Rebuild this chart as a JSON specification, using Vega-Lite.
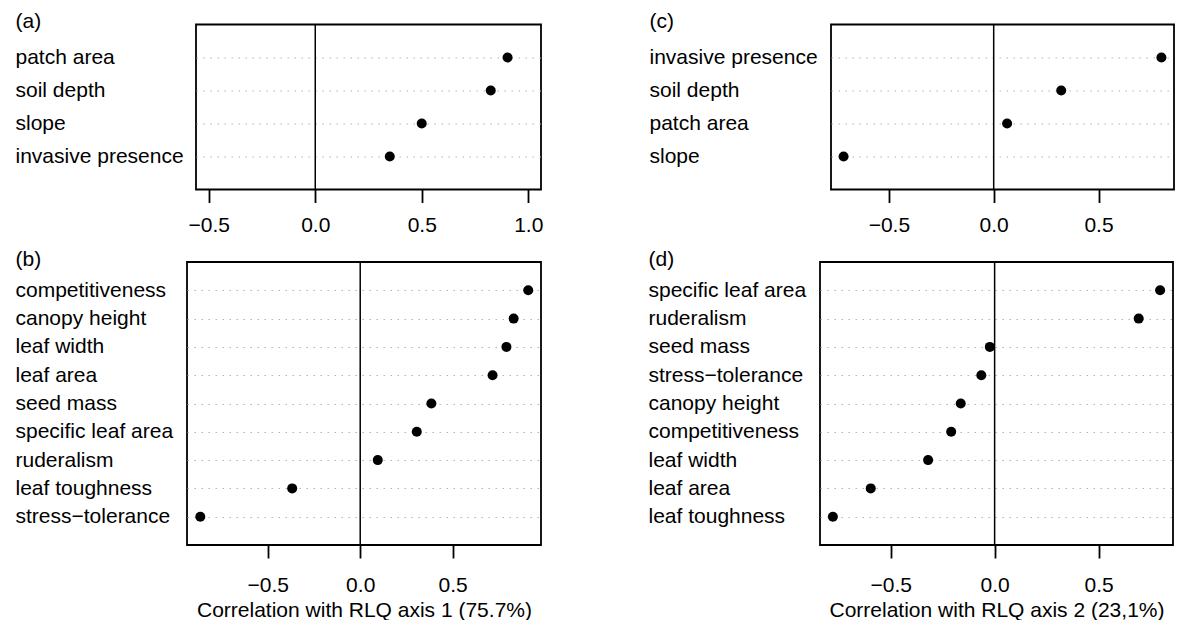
{
  "$schema": "https://vega.github.io/schema/vega-lite/v6.json",
  "background": "white",
  "padding": {"left": 13, "top": 9.5, "right": 2, "bottom": 0},
  "config": {
    "font": "Liberation Sans",
    "view": {"stroke": "black", "strokeWidth": 1.8},
    "axis": {
      "labelFont": "Liberation Sans",
      "labelFontSize": 21,
      "labelColor": "black",
      "titleFont": "Liberation Sans",
      "titleFontSize": 21,
      "titleFontWeight": "normal",
      "titleColor": "black"
    }
  },
  "datasets": {
    "a": [
      {"var": "patch area", "r": 0.903},
      {"var": "soil depth", "r": 0.824},
      {"var": "slope", "r": 0.5},
      {"var": "invasive presence", "r": 0.35}
    ],
    "b": [
      {"var": "competitiveness", "r": 0.909},
      {"var": "canopy height", "r": 0.83},
      {"var": "leaf width", "r": 0.791},
      {"var": "leaf area", "r": 0.716},
      {"var": "seed mass", "r": 0.385},
      {"var": "specific leaf area", "r": 0.306},
      {"var": "ruderalism", "r": 0.095},
      {"var": "leaf toughness", "r": -0.368},
      {"var": "stress−tolerance", "r": -0.865}
    ],
    "c": [
      {"var": "invasive presence", "r": 0.8},
      {"var": "soil depth", "r": 0.322},
      {"var": "patch area", "r": 0.064},
      {"var": "slope", "r": -0.716}
    ],
    "d": [
      {"var": "specific leaf area", "r": 0.796},
      {"var": "ruderalism", "r": 0.693},
      {"var": "seed mass", "r": -0.023},
      {"var": "stress−tolerance", "r": -0.064},
      {"var": "canopy height", "r": -0.163},
      {"var": "competitiveness", "r": -0.209},
      {"var": "leaf width", "r": -0.32},
      {"var": "leaf area", "r": -0.596},
      {"var": "leaf toughness", "r": -0.778}
    ],
    "empty": []
  },
  "columns": 2,
  "align": "none",
  "spacing": {"row": 10.5, "column": 0},
  "concat": [
    {
      "width": 1, "height": 1,
      "view": {"stroke": null},
      "data": {"name": "empty"},
      "mark": "point"
    },
    {
      "spacing": 104,
      "hconcat": [
        {
          "width": 345, "height": 165,
          "layer": [
            {
              "data": {"values": [{}]},
              "mark": {"type": "rule", "color": "black", "strokeWidth": 1.5},
              "encoding": {
                "x": {"datum": 0, "type": "quantitative",
                  "scale": {"domain": [-0.56, 1.06], "nice": false, "zero": false},
                  "axis": {"values": [-0.5, 0, 0.5, 1], "format": ".1f", "tickSize": 13, "tickWidth": 1.8, "tickColor": "black", "domain": false, "grid": false, "labelPadding": 12, "labelFlush": false, "labelOverlap": false, "labelBound": false, "title": null}}
              }
            },
            {
              "data": {"name": "a"},
              "mark": {"type": "circle", "color": "black", "opacity": 1, "size": 100},
              "encoding": {
                "x": {"field": "r", "type": "quantitative",
                  "scale": {"domain": [-0.56, 1.06], "nice": false, "zero": false},
                  "axis": {"values": [-0.5, 0, 0.5, 1], "format": ".1f", "tickSize": 13, "tickWidth": 1.8, "tickColor": "black", "domain": false, "grid": false, "labelPadding": 12, "labelFlush": false, "labelOverlap": false, "labelBound": false, "title": null}},
                "y": {"field": "var", "type": "nominal", "sort": null,
                  "scale": {"type": "point", "padding": 1},
                  "axis": {"title": "(a)", "titleAngle": 0, "titleAlign": "left", "titleBaseline": "middle", "titleX": -181, "titleY": -3,
                    "labelAlign": "left", "labelPadding": 181, "labelLimit": 0, "labelOverlap": false, "ticks": false, "tickSize": 0, "domain": false,
                    "grid": true, "gridDash": [1.5, 5.5], "gridColor": "#b4b4b4", "gridWidth": 1.2}}
              }
            }
          ]
        },
        {
          "width": 343, "height": 165,
          "layer": [
            {
              "data": {"values": [{}]},
              "mark": {"type": "rule", "color": "black", "strokeWidth": 1.5},
              "encoding": {
                "x": {"datum": 0, "type": "quantitative",
                  "scale": {"domain": [-0.776, 0.86], "nice": false, "zero": false},
                  "axis": {"values": [-0.5, 0, 0.5], "format": ".1f", "tickSize": 13, "tickWidth": 1.8, "tickColor": "black", "domain": false, "grid": false, "labelPadding": 12, "labelFlush": false, "labelOverlap": false, "labelBound": false, "title": null}}
              }
            },
            {
              "data": {"name": "c"},
              "mark": {"type": "circle", "color": "black", "opacity": 1, "size": 100},
              "encoding": {
                "x": {"field": "r", "type": "quantitative",
                  "scale": {"domain": [-0.776, 0.86], "nice": false, "zero": false},
                  "axis": {"values": [-0.5, 0, 0.5], "format": ".1f", "tickSize": 13, "tickWidth": 1.8, "tickColor": "black", "domain": false, "grid": false, "labelPadding": 12, "labelFlush": false, "labelOverlap": false, "labelBound": false, "title": null}},
                "y": {"field": "var", "type": "nominal", "sort": null,
                  "scale": {"type": "point", "padding": 1},
                  "axis": {"title": "(c)", "titleAngle": 0, "titleAlign": "left", "titleBaseline": "middle", "titleX": -182, "titleY": -3,
                    "labelAlign": "left", "labelPadding": 182, "labelLimit": 0, "labelOverlap": false, "ticks": false, "tickSize": 0, "domain": false,
                    "grid": true, "gridDash": [1.5, 5.5], "gridColor": "#b4b4b4", "gridWidth": 1.2}}
              }
            }
          ]
        }
      ]
    },
    {
      "width": 1, "height": 1,
      "view": {"stroke": null},
      "data": {"name": "empty"},
      "mark": "point"
    },
    {
      "spacing": 105,
      "hconcat": [
        {
          "width": 354, "height": 283,
          "layer": [
            {
              "data": {"values": [{}]},
              "mark": {"type": "rule", "color": "black", "strokeWidth": 1.5},
              "encoding": {
                "x": {"datum": 0, "type": "quantitative",
                  "scale": {"domain": [-0.937, 0.978], "nice": false, "zero": false},
                  "axis": {"values": [-0.5, 0, 0.5], "format": ".1f", "tickSize": 13, "tickWidth": 1.8, "tickColor": "black", "domain": false, "grid": false, "labelPadding": 16, "labelFlush": false, "labelOverlap": false, "labelBound": false, "title": "Correlation with RLQ axis 1 (75.7%)", "titlePadding": 4}}
              }
            },
            {
              "data": {"name": "b"},
              "mark": {"type": "circle", "color": "black", "opacity": 1, "size": 100},
              "encoding": {
                "x": {"field": "r", "type": "quantitative",
                  "scale": {"domain": [-0.937, 0.978], "nice": false, "zero": false},
                  "axis": {"values": [-0.5, 0, 0.5], "format": ".1f", "tickSize": 13, "tickWidth": 1.8, "tickColor": "black", "domain": false, "grid": false, "labelPadding": 16, "labelFlush": false, "labelOverlap": false, "labelBound": false, "title": "Correlation with RLQ axis 1 (75.7%)", "titlePadding": 4}},
                "y": {"field": "var", "type": "nominal", "sort": null,
                  "scale": {"type": "point", "padding": 1},
                  "axis": {"title": "(b)", "titleAngle": 0, "titleAlign": "left", "titleBaseline": "middle", "titleX": -172, "titleY": -3,
                    "labelAlign": "left", "labelPadding": 172, "labelLimit": 0, "labelOverlap": false, "ticks": false, "tickSize": 0, "domain": false,
                    "grid": true, "gridDash": [1.5, 5.5], "gridColor": "#b4b4b4", "gridWidth": 1.2}}
              }
            }
          ]
        },
        {
          "width": 353, "height": 283,
          "layer": [
            {
              "data": {"values": [{}]},
              "mark": {"type": "rule", "color": "black", "strokeWidth": 1.5},
              "encoding": {
                "x": {"datum": 0, "type": "quantitative",
                  "scale": {"domain": [-0.84, 0.858], "nice": false, "zero": false},
                  "axis": {"values": [-0.5, 0, 0.5], "format": ".1f", "tickSize": 13, "tickWidth": 1.8, "tickColor": "black", "domain": false, "grid": false, "labelPadding": 16, "labelFlush": false, "labelOverlap": false, "labelBound": false, "title": "Correlation with RLQ axis 2 (23,1%)", "titlePadding": 4}}
              }
            },
            {
              "data": {"name": "d"},
              "mark": {"type": "circle", "color": "black", "opacity": 1, "size": 100},
              "encoding": {
                "x": {"field": "r", "type": "quantitative",
                  "scale": {"domain": [-0.84, 0.858], "nice": false, "zero": false},
                  "axis": {"values": [-0.5, 0, 0.5], "format": ".1f", "tickSize": 13, "tickWidth": 1.8, "tickColor": "black", "domain": false, "grid": false, "labelPadding": 16, "labelFlush": false, "labelOverlap": false, "labelBound": false, "title": "Correlation with RLQ axis 2 (23,1%)", "titlePadding": 4}},
                "y": {"field": "var", "type": "nominal", "sort": null,
                  "scale": {"type": "point", "padding": 1},
                  "axis": {"title": "(d)", "titleAngle": 0, "titleAlign": "left", "titleBaseline": "middle", "titleX": -172, "titleY": -3,
                    "labelAlign": "left", "labelPadding": 172, "labelLimit": 0, "labelOverlap": false, "ticks": false, "tickSize": 0, "domain": false,
                    "grid": true, "gridDash": [1.5, 5.5], "gridColor": "#b4b4b4", "gridWidth": 1.2}}
              }
            }
          ]
        }
      ]
    }
  ]
}
